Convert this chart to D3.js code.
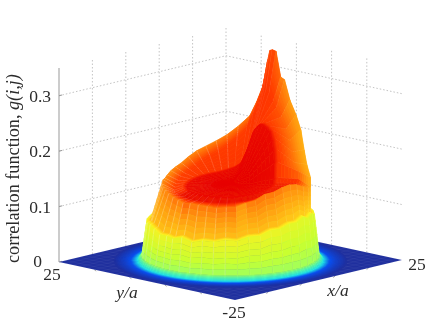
<!DOCTYPE html>
<html>
<head>
<meta charset="utf-8">
<script src="https://d3js.org/d3.v7.min.js"></script>
<style>
  body { margin: 0; background: #fff; }
  svg { display: block; }
  text { font-family: "Liberation Serif", serif; fill: #2b2b2b; }
</style>
</head>
<body>
<div id="chart"></div>
<script>
// tick labels
const zTicks = [0.1, 0.2, 0.3];
const wallTicks = [-15, -5, 5, 15];

// spokes of the volcano, degrees in the x/y plane
const thetas = [-180,-172,-164,-156,-148,-140,-132,-124,-116,-108,-100,-92,-84,-76,-68,-60,-52,-44,-36,-28,-20,-12,-4,
  2,6,10,13,15,17,20,25,30,
  38,46,54,62,70,78,86,94,102,110,118,126,134,142,150,158,166,174];

// the flat skirt on the floor, same for all spokes
const skirtR = [24, 22, 20.5, 19.2, 18.3];
const skirtZ = [0, 0, 0, 0.001, 0.01];
const skirtLevel = [0, 0.1, 0.2, 0.3, 0.46];

// top of the first terrace (lime), r = 17.3, then its flat step
const terraceR = 17.3;
const stepR = 16.4;
const limeZ = [.065,.07,.064,.069,.068,.072,.07,.077,.077,.085,.085,.091,.09,.096,.089,.093,.087,.083,.085,.085,.085,.09,.09,
  .09,.095,.1,.1,.1,.1,.095,.09,.085,
  .08,.08,.08,.08,.078,.078,.075,.075,.074,.074,.072,.072,.069,.074,.075,.072,.066,.067];
const limeLevel = [.58,.54,.6,.54,.6,.55,.6,.54,.6,.55,.59,.53,.58,.52,.57,.51,.56,.55,.58,.58,.58,.58,.58,
  .58,.58,.58,.58,.58,.58,.58,.58,.58,
  .58,.58,.58,.58,.58,.58,.58,.58,.58,.58,.58,.54,.6,.54,.61,.55,.6,.54];

// crest of the rim
const rimR = [14.2,14.3,14.4,14.4,14.4,14.4,14.4,14.5,14.6,14.8,15,15.2,15.4,15.6,16,16.4,16.5,16.5,16,16,16.2,16.4,16.6,
  16.8,17,17,17,17,17,17,17,17,
  16.8,16.5,16.2,16,15.6,15.3,15,14.7,14.4,14.2,14,14,14,14,14,14,14,14.2];
const rimZ = [.125,.127,.126,.125,.123,.125,.125,.132,.136,.146,.148,.154,.156,.153,.146,.139,.137,.149,.168,.19,.222,.245,.268,
  .302,.305,.35,.352,.35,.329,.287,.255,.229,
  .21,.195,.185,.177,.171,.163,.155,.151,.148,.144,.142,.143,.139,.138,.136,.133,.13,.128];
const rimLevel = [.8,.85,.76,.84,.76,.85,.77,.75,.84,.76,.84,.75,.81,.75,.79,.72,.74,.7,.72,.7,.72,.74,.74,
  .78,.78,.86,.86,.86,.86,.86,.84,.82,
  .78,.8,.77,.79,.76,.79,.76,.78,.76,.76,.78,.74,.8,.74,.81,.75,.82,.78];

// inside of the bowl: just inside the crest, r = 9, r = 4
const innerGap = 2.5;
const inner1Z = [.128,.128,.128,.128,.128,.128,.13,.13,.132,.135,.138,.14,.145,.145,.145,.146,.15,.16,.172,.188,.205,.222,.24,
  .255,.265,.28,.285,.285,.275,.255,.235,.212,
  .195,.182,.172,.165,.158,.152,.147,.143,.14,.136,.133,.13,.128,.128,.128,.128,.128,.128];
const inner1Level = [.98,.98,.98,.98,.98,.98,.98,.98,.98,.97,.97,.96,.95,.95,.94,.92,.86,.8,.79,.8,.8,.82,.84,
  .86,.88,.89,.89,.89,.89,.89,.89,.88,
  .88,.88,.88,.88,.88,.88,.88,.88,.88,.88,.88,.88,.88,.89,.9,.95,.98,.98];
const inner2Z = [.132,.132,.132,.132,.132,.132,.133,.134,.135,.136,.137,.138,.139,.14,.141,.143,.15,.175,.195,.212,.225,.23,.233,
  .232,.228,.222,.215,.205,.198,.188,.172,.158,
  .15,.146,.143,.141,.14,.139,.138,.137,.136,.135,.134,.133,.132,.132,.132,.132,.132,.132];
const inner3Z = [.136,.136,.136,.136,.136,.136,.136,.136,.136,.137,.137,.137,.137,.138,.138,.138,.14,.145,.15,.155,.158,.16,.16,
  .16,.158,.156,.154,.152,.15,.148,.145,.142,
  .14,.14,.139,.139,.138,.138,.138,.137,.137,.137,.136,.136,.136,.136,.136,.136,.136,.136];
const edgeR = 9.8;
const innerR = [9, 4, 0];
const centerZ = 0.14;

const svg = d3.select("#chart").append("svg").attr("width", 436).attr("height", 329);

// oblique axes, no perspective in the picture
const xToPx = d3.scaleLinear().domain([-25, 25]).range([0, 167]);
const yToPx = d3.scaleLinear().domain([-25, 25]).range([0, -176]);
const xToPy = d3.scaleLinear().domain([-25, 25]).range([0, -40]);
const yToPy = d3.scaleLinear().domain([-25, 25]).range([0, -38]);
const zToPy = d3.scaleLinear().domain([0, 0.35]).range([0, -194]);

const project = (x, y, z) => [
  235 + xToPx(x) + yToPx(y),
  300 + xToPy(x) + yToPy(y) + zToPy(z),
];

const color = d3.scaleLinear()
  .domain([0, 0.2, 0.3, 0.4, 0.5, 0.6, 0.75, 0.88, 1])
  .range(["#1f2f9e", "#0a50f0", "#20e8e8", "#60ffa0", "#c8ff30", "#ffee20", "#ff9a10", "#ff3a00", "#e60000"])
  .clamp(true);

const line = d3.line();
const grid = svg.append("g");

// back walls
zTicks.forEach((z) => {
  grid.append("path")
    .attr("d", line([project(-25, 25, z), project(25, 25, z), project(25, -25, z)]))
    .attr("fill", "none").attr("stroke", "#c4c4c4").attr("stroke-dasharray", "1.5 2");
});
wallTicks.concat([25]).forEach((v) => {
  grid.append("path")
    .attr("d", line([project(v, 25, 0), project(v, 25, 0.35)]))
    .attr("fill", "none").attr("stroke", "#c4c4c4").attr("stroke-dasharray", "1.5 2");
});
wallTicks.forEach((v) => {
  grid.append("path")
    .attr("d", line([project(25, v, 0), project(25, v, 0.35)]))
    .attr("fill", "none").attr("stroke", "#c4c4c4").attr("stroke-dasharray", "1.5 2");
});

// z axis
grid.append("path")
  .attr("d", line([project(-25, 25, 0), project(-25, 25, 0.35)]))
  .attr("fill", "none").attr("stroke", "#999").attr("stroke-width", 1);
[0].concat(zTicks).forEach((z) => {
  const p = project(-25, 25, z);
  grid.append("path")
    .attr("d", line([p, [p[0] + 3, p[1] - 0.7]]))
    .attr("fill", "none").attr("stroke", "#999");
});

// floor ticks
wallTicks.forEach((v) => {
  const a = project(-25, v, 0);
  const b = project(v, -25, 0);
  grid.append("path").attr("d", line([a, [a[0] + 2, a[1] + 1.5]])).attr("fill", "none").attr("stroke", "#aaa");
  grid.append("path").attr("d", line([b, [b[0] - 2, b[1] + 1.5]])).attr("fill", "none").attr("stroke", "#aaa");
});

const surface = svg.append("g").style("filter", "blur(0.5px)");

// floor
surface.append("path")
  .attr("d", line([project(-25, -25, 0), project(25, -25, 0), project(25, 25, 0), project(-25, 25, 0)]) + "Z")
  .attr("fill", color(0));
d3.range(-25, 26, 2).forEach((v) => {
  surface.append("path")
    .attr("d", line([project(v, -25, 0), project(v, 25, 0)]) + line([project(-25, v, 0), project(25, v, 0)]))
    .attr("fill", "none").attr("stroke", "#fff").attr("stroke-opacity", 0.07).attr("stroke-width", 0.6);
});

// one row of [r, z, level] per ring, going inwards
function spokeRows(i) {
  const rows = skirtR.map((r, k) => [r, skirtZ[k], skirtLevel[k]]);
  rows.push([terraceR, limeZ[i], limeLevel[i]]);
  rows.push([Math.max(stepR, rimR[i]), limeZ[i] + 0.003, limeLevel[i] + 0.11]);
  rows.push([rimR[i], rimZ[i], rimLevel[i]]);
  rows.push([rimR[i] - innerGap, inner1Z[i], inner1Level[i]]);
  rows.push([edgeR, inner2Z[i] + 0.002, Math.max(inner1Level[i], 0.89)]);
  rows.push([innerR[0], inner2Z[i], 0.98]);
  rows.push([innerR[1], inner3Z[i], 1]);
  rows.push([innerR[2], centerZ, 1]);
  return rows;
}

function place(theta, row) {
  const a = theta * Math.PI / 180;
  return { x: row[0] * Math.cos(a), y: row[0] * Math.sin(a), z: row[1], level: row[2] };
}

const mix = (a, b, t) => ({
  x: a.x + (b.x - a.x) * t,
  y: a.y + (b.y - a.y) * t,
  z: a.z + (b.z - a.z) * t,
  level: a.level + (b.level - a.level) * t,
});

// mesh opacity per ring step, pale lines down the spokes
const meshOpacity = [0, 0, 0, 0, 0.28, 0.2, 0.3, 0.28, 0.2, 0.12, 0.05, 0];

// build the facets and sort them back to front
const facets = [];
const sub = 6;
thetas.forEach((theta, i) => {
  const j = (i + 1) % thetas.length;
  const rowsA = spokeRows(i).map((r) => place(theta, r));
  const rowsB = spokeRows(j).map((r) => place(thetas[j], r));
  for (let k = 0; k < rowsA.length - 1; k++) {
    for (let s = 0; s < sub; s++) {
      const t0 = s / sub, t1 = (s + 1) / sub;
      const p = [mix(rowsA[k], rowsA[k + 1], t0), mix(rowsB[k], rowsB[k + 1], t0),
                 mix(rowsB[k], rowsB[k + 1], t1), mix(rowsA[k], rowsA[k + 1], t1)];
      const depth = d3.mean(p, (d) => 0.8 * d.x + 0.76 * d.y);
      const level = d3.mean(p, (d) => d.level);
      const pts = p.map((d) => project(d.x, d.y, d.z));
      facets.push({ d: line(pts) + "Z", fill: color(level), stroke: color(level), width: 0.5, op: 1, depth });
      if (meshOpacity[k] > 0) {
        facets.push({ d: line([pts[0], pts[3]]), fill: "none", stroke: "#fff", width: 0.8, op: meshOpacity[k], depth });
      }
    }
  }
});
facets.sort((a, b) => d3.descending(a.depth, b.depth));

surface.selectAll(".facet")
  .data(facets)
  .join("path")
  .attr("class", "facet")
  .attr("d", (d) => d.d)
  .attr("fill", (d) => d.fill)
  .attr("stroke", (d) => d.stroke)
  .attr("stroke-width", (d) => d.width)
  .attr("stroke-opacity", (d) => d.op);

// labels
const labels = svg.append("g").style("filter", "blur(0.25px)");
[0].concat(zTicks).forEach((z) => {
  const p = project(-25, 25, z);
  labels.append("text")
    .attr("x", z === 0 ? 42 : 51).attr("y", p[1] + (z === 0 ? 5 : 6))
    .attr("text-anchor", "end").style("font-size", "17.5px").text(z);
});
labels.append("text").attr("x", 52).attr("y", 280).attr("text-anchor", "middle").style("font-size", "17.5px").text("25");
labels.append("text").attr("x", 234).attr("y", 318).attr("text-anchor", "middle").style("font-size", "17.5px").text("-25");
labels.append("text").attr("x", 417).attr("y", 270).attr("text-anchor", "middle").style("font-size", "17.5px").text("25");
labels.append("text").attr("x", 127).attr("y", 298).attr("text-anchor", "middle")
  .style("font-size", "17.5px").style("font-style", "italic").text("y/a");
labels.append("text").attr("x", 338).attr("y", 296).attr("text-anchor", "middle")
  .style("font-size", "17.5px").style("font-style", "italic").text("x/a");

const ylab = labels.append("text")
  .attr("transform", "translate(19,263) rotate(-90)")
  .style("font-size", "18.2px");
ylab.append("tspan").text("correlation function, ");
ylab.append("tspan").style("font-style", "italic").text("g(i,j)");
</script>
</body>
</html>
